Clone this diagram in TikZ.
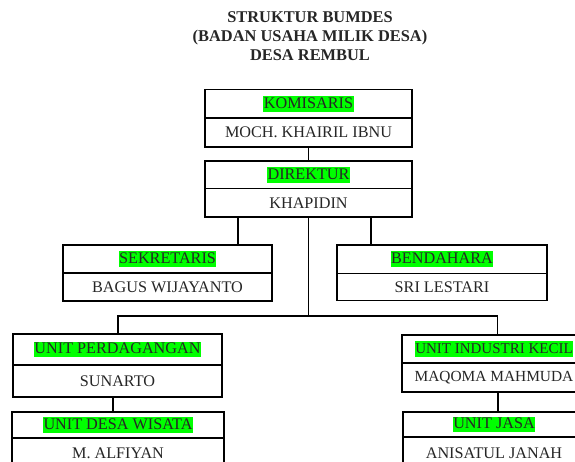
\documentclass[tikz,border=0pt]{standalone}
\usepackage{fontspec}
\setmainfont{Liberation Serif}
\definecolor{hl}{HTML}{00FF00}
\newcommand{\hlt}[1]{{\setlength{\fboxsep}{0pt}\colorbox{hl}{\rule[-3.6pt]{0pt}{15.8pt}\hspace{0.5pt}#1\hspace{0.5pt}}}}
\tikzset{
  cell/.style={draw=black, line width=1.7pt, rectangle, inner sep=0pt, anchor=center,
    font=\fontsize{16.2}{18}\selectfont, text=black!85},
  link/.style={draw=black, line width=1.7pt},
}
\begin{document}
\begin{tikzpicture}[x=1pt,y=-1pt]
\useasboundingbox (0,0) rectangle (575,462);
\clip (0,0) rectangle (575,462);
\fill[white] (0,0) rectangle (575,462);

\node[align=center, font=\fontsize{16.4}{18.8}\selectfont\bfseries, text=black!85] (title) at (310,36)
  {STRUKTUR BUMDES\\(BADAN USAHA MILIK DESA)\\DESA REMBUL};

% KOMISARIS
\node[cell, minimum width=207pt, minimum height=28.5pt] (kh) at (308.5,103.75) {\hlt{KOMISARIS}};
\node[cell, minimum width=207pt, minimum height=29pt] (kn) at (308.5,132.5) {MOCH. KHAIRIL IBNU};
% DIREKTUR
\node[cell, minimum width=207pt, minimum height=27.5pt] (dh) at (308.5,174.75) {\hlt{DIREKTUR}};
\node[cell, minimum width=207pt, minimum height=28.5pt] (dn) at (308.5,202.75) {KHAPIDIN};
% SEKRETARIS
\node[cell, minimum width=209pt, minimum height=28pt] (sh) at (167.5,259) {\hlt{SEKRETARIS}};
\node[cell, minimum width=209pt, minimum height=28pt] (sn) at (167.5,287) {BAGUS WIJAYANTO};
% BENDAHARA
\node[cell, minimum width=210pt, minimum height=28.5pt] (bh) at (442,259.25) {\hlt{BENDAHARA}};
\node[cell, minimum width=210pt, minimum height=27pt] (bn) at (442,287) {SRI LESTARI};
% UNIT PERDAGANGAN
\node[cell, minimum width=209pt, minimum height=31pt] (ph) at (117.5,349.5) {\hlt{UNIT PERDAGANGAN}};
\node[cell, minimum width=209pt, minimum height=32pt] (pn) at (117.5,381) {SUNARTO};
% UNIT DESA WISATA
\node[cell, minimum width=212pt, minimum height=26pt] (wh) at (118,425) {\hlt{UNIT DESA WISATA}};
\node[cell, minimum width=212pt, minimum height=30pt] (wn) at (118,453) {M. ALFIYAN};
% UNIT INDUSTRI KECIL
\node[cell, minimum width=184pt, minimum height=28pt, font=\fontsize{15}{18}\selectfont] (ih) at (494,349) {\hlt{UNIT INDUSTRI KECIL}};
\node[cell, minimum width=184pt, minimum height=29pt, font=\fontsize{15.4}{18}\selectfont] (in) at (494,377.5) {MAQOMA MAHMUDA};
% UNIT JASA
\node[cell, minimum width=182pt, minimum height=25pt] (jh) at (494,424.5) {\hlt{UNIT JASA}};
\node[cell, minimum width=182pt, minimum height=32pt] (jn) at (494,453) {ANISATUL JANAH};

% connectors
\draw[link] (kn.south) -- (dh.north);
\draw[link] ([xshift=-70.5pt]dn.south) -- ([xshift=-70.5pt]dn.south |- sh.north);
\draw[link] ([xshift=62.5pt]dn.south) -- ([xshift=62.5pt]dn.south |- bh.north);
\coordinate (split) at ([yshift=-98pt]dn.south);
\draw[link] (dn.south) -- (split);
\draw[link] ([xshift=0.5pt]ph.north) |- (split) -| ([xshift=3.5pt]ih.north);
\draw[link] ([xshift=-4.5pt]pn.south) -- ([xshift=-4.5pt]pn.south |- wh.north);
\draw[link] ([xshift=4pt]in.south) -- ([xshift=4pt]in.south |- jh.north);
\end{tikzpicture}
\end{document}
